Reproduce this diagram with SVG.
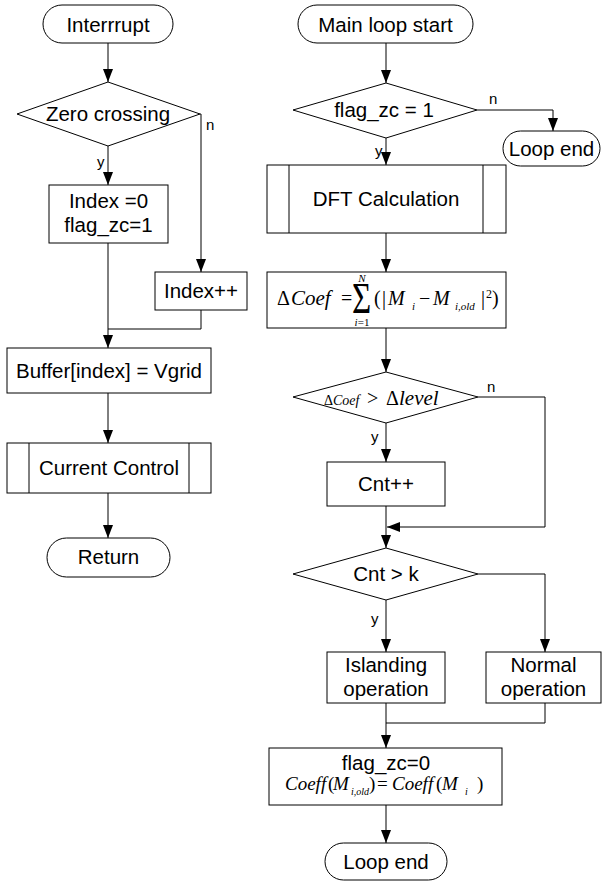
<svg xmlns="http://www.w3.org/2000/svg" width="602" height="883" viewBox="0 0 602 883">
  <style>
    .shape { fill: #fff; stroke: #000; stroke-width: 1; }
    .bar { stroke: #000; stroke-width: 1; fill: none; }
    .conn { fill: none; stroke: #000; stroke-width: 1; }
    .lbl { font-family: "Liberation Sans", Arial, sans-serif; font-size: 20.5px; fill: #000; text-anchor: middle; }
    .yn { font-family: "Liberation Sans", Arial, sans-serif; font-size: 15px; fill: #000; }
    .mi { font-family: "Liberation Serif", "Times New Roman", serif; font-style: italic; fill: #000; }
    .mu { font-family: "Liberation Serif", "Times New Roman", serif; fill: #000; }
  </style>
  <defs>
    <marker id="ah" viewBox="0 0 13 10" refX="13" refY="5" markerWidth="13" markerHeight="10" markerUnits="userSpaceOnUse" orient="auto">
      <path d="M0,0 L13,5 L0,10 z" fill="#000"/>
    </marker>
  </defs>

  <rect width="602" height="883" fill="#fff"/>

  <!-- connectors -->
  <g id="connectors">
    <!-- interrupt routine -->
    <path class="conn" d="M108,43 V82" marker-end="url(#ah)"/>
    <path class="conn" d="M108,146 V185" marker-end="url(#ah)"/>
    <path class="conn" d="M200,114 H201 V272" marker-end="url(#ah)"/>
    <path class="conn" d="M108,243 V348" marker-end="url(#ah)"/>
    <path class="conn" d="M201,310 V329 H108"/>
    <path class="conn" d="M108,393 V443" marker-end="url(#ah)"/>
    <path class="conn" d="M108,493 V538" marker-end="url(#ah)"/>
    <!-- main loop -->
    <path class="conn" d="M386,43 V83" marker-end="url(#ah)"/>
    <path class="conn" d="M477,110 H553 V131" marker-end="url(#ah)"/>
    <path class="conn" d="M386,138 V165" marker-end="url(#ah)"/>
    <path class="conn" d="M386,233 V272" marker-end="url(#ah)"/>
    <path class="conn" d="M386,328 V372" marker-end="url(#ah)"/>
    <path class="conn" d="M386,423 V462" marker-end="url(#ah)"/>
    <path class="conn" d="M478,397 H545 V527 H387" marker-end="url(#ah)"/>
    <path class="conn" d="M386,506 V548" marker-end="url(#ah)"/>
    <path class="conn" d="M386,600 V652" marker-end="url(#ah)"/>
    <path class="conn" d="M478,574 H545 V652" marker-end="url(#ah)"/>
    <path class="conn" d="M386,703 V748" marker-end="url(#ah)"/>
    <path class="conn" d="M545,703 V723 H386"/>
    <path class="conn" d="M386,805 V843" marker-end="url(#ah)"/>
    <!-- branch labels -->
    <text class="yn" x="206" y="130">n</text>
    <text class="yn" x="97" y="167">y</text>
    <text class="yn" x="489" y="104">n</text>
    <text class="yn" x="375" y="156">y</text>
    <text class="yn" x="371" y="442">y</text>
    <text class="yn" x="487" y="392">n</text>
    <text class="yn" x="371" y="624">y</text>
  </g>

  <!-- interrupt routine nodes -->
  <g id="interrupt">
    <rect class="shape" x="43" y="5" width="130" height="38" rx="19"/>
    <text class="lbl" x="108" y="31.5">Interrrupt</text>
  </g>
  <g id="zero-crossing">
    <polygon class="shape" points="108,82 200,114 108,146 17,114"/>
    <text class="lbl" x="108" y="121">Zero crossing</text>
  </g>
  <g id="index-reset">
    <rect class="shape" x="49" y="185" width="119" height="58"/>
    <text class="lbl" x="108.5" y="208">Index =0</text>
    <text class="lbl" x="108.5" y="232">flag_zc=1</text>
  </g>
  <g id="index-inc">
    <rect class="shape" x="155" y="272" width="92" height="38"/>
    <text class="lbl" x="201" y="298">Index++</text>
  </g>
  <g id="buffer">
    <rect class="shape" x="7" y="348" width="204" height="45"/>
    <text class="lbl" x="109" y="378">Buffer[index] = Vgrid</text>
  </g>
  <g id="current-control">
    <rect class="shape" x="7" y="443" width="204" height="50"/>
    <line class="bar" x1="29" y1="443" x2="29" y2="493"/>
    <line class="bar" x1="189" y1="443" x2="189" y2="493"/>
    <text class="lbl" x="109" y="475">Current Control</text>
  </g>
  <g id="return">
    <rect class="shape" x="47" y="538" width="123" height="39" rx="19.5"/>
    <text class="lbl" x="108.5" y="564">Return</text>
  </g>

  <!-- main loop nodes -->
  <g id="main-start">
    <rect class="shape" x="298" y="5" width="175" height="38" rx="19"/>
    <text class="lbl" x="385.5" y="31.5">Main loop start</text>
  </g>
  <g id="flag-check">
    <polygon class="shape" points="386,83 477,110 386,138 293,110"/>
    <text class="lbl" x="384" y="117">flag_zc = 1</text>
  </g>
  <g id="loop-end-early">
    <rect class="shape" x="503" y="131" width="97" height="35" rx="17.5"/>
    <text class="lbl" x="551.5" y="156">Loop end</text>
  </g>
  <g id="dft">
    <rect class="shape" x="267" y="165" width="239" height="68"/>
    <line class="bar" x1="289" y1="165" x2="289" y2="233"/>
    <line class="bar" x1="483" y1="165" x2="483" y2="233"/>
    <text class="lbl" x="386" y="206">DFT Calculation</text>
  </g>
  <g id="coef-sum">
    <rect class="shape" x="267" y="272" width="239" height="56"/>
    <text class="mu" x="277" y="305" font-size="20">Δ</text>
    <text class="mi" x="291" y="305" font-size="21">Coef</text>
    <text class="mu" x="341" y="305" font-size="20">=</text>
    <!-- large summation sign, narrowed horizontally -->
    <text class="mu" x="0" y="0" font-size="44" transform="translate(352,313) scale(0.75,1)">Σ</text>
    <text class="mi" x="362" y="282" font-size="11" text-anchor="middle">N</text>
    <text x="362" y="326" font-size="11" text-anchor="middle"><tspan class="mi">i</tspan><tspan class="mu">=1</tspan></text>
    <text class="mu" x="374" y="305" font-size="20">(</text>
    <text class="mu" x="382" y="305" font-size="20">|</text>
    <text class="mi" x="388" y="305" font-size="20">M</text>
    <text class="mi" x="412" y="310" font-size="11">i</text>
    <text class="mu" x="419" y="305" font-size="20">−</text>
    <text class="mi" x="433" y="305" font-size="20">M</text>
    <text class="mi" x="455" y="310" font-size="11">i,old</text>
    <text class="mu" x="481" y="305" font-size="20">|</text>
    <text class="mu" x="486" y="298" font-size="12">2</text>
    <text class="mu" x="492" y="305" font-size="20">)</text>
  </g>
  <g id="coef-check">
    <polygon class="shape" points="386,372 478,397 386,423 293,397"/>
    <text class="mu" x="324" y="405" font-size="14">Δ</text>
    <text class="mi" x="333" y="405" font-size="14">Coef</text>
    <text class="mu" x="367" y="405" font-size="20">&gt;</text>
    <text class="mu" x="386" y="405" font-size="20">Δ</text>
    <text class="mi" x="399" y="405" font-size="21">level</text>
  </g>
  <g id="cnt-inc">
    <rect class="shape" x="327" y="462" width="118" height="44"/>
    <text class="lbl" x="386" y="491">Cnt++</text>
  </g>
  <g id="cnt-check">
    <polygon class="shape" points="386,548 478,574 386,600 293,574"/>
    <text class="lbl" x="386" y="581">Cnt &gt; k</text>
  </g>
  <g id="islanding">
    <rect class="shape" x="327" y="652" width="118" height="51"/>
    <text class="lbl" x="386" y="672">Islanding</text>
    <text class="lbl" x="386" y="696">operation</text>
  </g>
  <g id="normal">
    <rect class="shape" x="486" y="652" width="115" height="51"/>
    <text class="lbl" x="543.5" y="672">Normal</text>
    <text class="lbl" x="543.5" y="696">operation</text>
  </g>
  <g id="flag-reset">
    <rect class="shape" x="269" y="748" width="233" height="57"/>
    <text class="lbl" x="386" y="770">flag_zc=0</text>
    <text class="mi" x="285" y="790" font-size="19">Coeff</text>
    <text class="mu" x="328" y="790" font-size="19">(</text>
    <text class="mi" x="333" y="790" font-size="19">M</text>
    <text class="mi" x="351" y="795" font-size="10">i,old</text>
    <text class="mu" x="369" y="790" font-size="19">)</text>
    <text class="mu" x="377" y="790" font-size="19">=</text>
    <text class="mi" x="392" y="790" font-size="19">Coeff</text>
    <text class="mu" x="436" y="790" font-size="19">(</text>
    <text class="mi" x="442" y="790" font-size="19">M</text>
    <text class="mi" x="465" y="795" font-size="10">i</text>
    <text class="mu" x="477" y="790" font-size="19">)</text>
  </g>
  <g id="loop-end">
    <rect class="shape" x="325" y="843" width="122" height="37" rx="18.5"/>
    <text class="lbl" x="386" y="869">Loop end</text>
  </g>
</svg>
